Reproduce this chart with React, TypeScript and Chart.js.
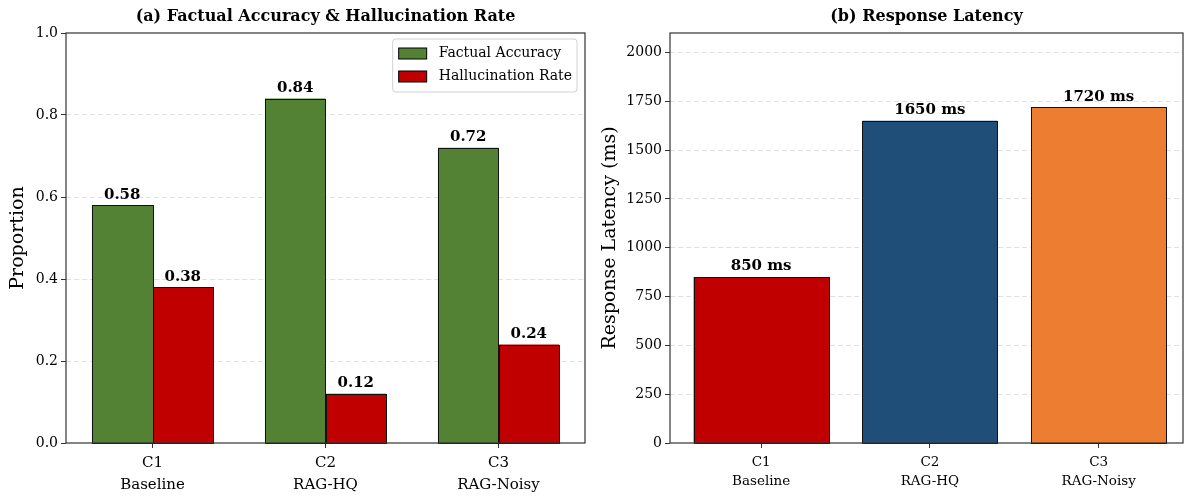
import { useEffect, useRef } from 'react';
import { Chart, registerables } from 'chart.js';

Chart.register(...registerables);

const categories: string[][] = [['C1', 'Baseline'], ['C2', 'RAG-HQ'], ['C3', 'RAG-Noisy']];
const categoryPositions = [0, 1, 2];
const factualAccuracy = [0.58, 0.84, 0.72];
const hallucinationRate = [0.38, 0.12, 0.24];
const latencyMs = [850, 1650, 1720];
const proportionTicks = [0, 0.2, 0.4, 0.6, 0.8, 1.0];
const latencyTicks = [0, 250, 500, 750, 1000, 1250, 1500, 1750, 2000];

const FONT = "'DejaVu Serif', serif";
const GREEN = '#548235';
const RED = '#C00000';
const BLUE = '#1F4E79';
const ORANGE = '#ED7D31';
const AXIS = '#333333';
const GRID = 'rgba(0,0,0,0.12)';

const boxPlugin = {
  id: 'box',
  afterDatasetsDraw(chart: any) {
    const { ctx, chartArea } = chart;
    ctx.save();
    ctx.strokeStyle = AXIS;
    ctx.lineWidth = 1.2;
    ctx.strokeRect(chartArea.left, chartArea.top, chartArea.right - chartArea.left, chartArea.bottom - chartArea.top);
    ctx.restore();
  },
};

// Re-paints each bar the library has laid out on whole pixels, with a crisp dark edge.
const barOutlinePlugin = {
  id: 'barOutline',
  afterDatasetsDraw(chart: any) {
    const { ctx } = chart;
    ctx.save();
    ctx.lineWidth = 1;
    chart.data.datasets.forEach((_: any, di: number) => {
      chart.getDatasetMeta(di).data.forEach((el: any) => {
        const { x, y, base, width } = el.getProps(['x', 'y', 'base', 'width'], true);
        const l = Math.round(x - width / 2);
        const r = Math.round(x + width / 2);
        const t = Math.round(Math.min(y, base));
        const b = Math.round(Math.max(y, base));
        ctx.fillStyle = el.options.backgroundColor;
        ctx.fillRect(l, t, r - l + 1, b - t + 1);
        ctx.strokeStyle = '#111';
        ctx.strokeRect(l + 0.5, t + 0.5, r - l, b - t);
      });
    });
    ctx.restore();
  },
};

function titlePlugin(text: string) {
  return {
    id: 'areaTitle',
    afterDraw(chart: any) {
      const { ctx, chartArea } = chart;
      ctx.save();
      ctx.font = `bold 16px ${FONT}`;
      ctx.fillStyle = '#000';
      ctx.textAlign = 'center';
      ctx.textBaseline = 'middle';
      ctx.fillText(text, (chartArea.left + chartArea.right) / 2, 17);
      ctx.restore();
    },
  };
}

function valueLabelPlugin(fmt: (v: number) => string) {
  return {
    id: 'valueLabels',
    afterDatasetsDraw(chart: any) {
      const { ctx } = chart;
      ctx.save();
      ctx.font = `bold 15px ${FONT}`;
      ctx.fillStyle = '#000';
      ctx.textAlign = 'center';
      ctx.textBaseline = 'bottom';
      chart.data.datasets.forEach((ds: any, di: number) => {
        const meta = chart.getDatasetMeta(di);
        meta.data.forEach((el: any, i: number) => {
          const raw = ds.data[i];
          const v = typeof raw === 'number' ? raw : raw.y;
          ctx.fillText(fmt(v), el.x, el.y - 3);
        });
      });
      ctx.restore();
    },
  };
}

const legendPlugin = {
  id: 'innerLegend',
  afterDraw(chart: any) {
    const { ctx, chartArea } = chart;
    ctx.save();
    ctx.font = `14px ${FONT}`;
    const items = chart.data.datasets.map((d: any) => ({ text: d.label, color: d.backgroundColor }));
    const textW = Math.max(...items.map((it: any) => ctx.measureText(it.text).width));
    const w = 6 + 28 + 12 + textW + 5;
    const h = 53;
    const x = chartArea.right - 8 - w;
    const y = chartArea.top + 6;
    ctx.beginPath();
    ctx.roundRect(x, y, w, h, 3);
    ctx.fillStyle = 'rgba(255,255,255,0.85)';
    ctx.fill();
    ctx.strokeStyle = 'rgba(0,0,0,0.18)';
    ctx.lineWidth = 1;
    ctx.stroke();
    items.forEach((it: any, i: number) => {
      const cy = y + 14.5 + i * 23;
      ctx.fillStyle = it.color;
      ctx.fillRect(x + 6, cy - 5.5, 28, 11);
      ctx.strokeStyle = '#000';
      ctx.strokeRect(x + 6, cy - 5.5, 28, 11);
      ctx.fillStyle = '#000';
      ctx.textAlign = 'left';
      ctx.textBaseline = 'middle';
      ctx.fillText(it.text, x + 6 + 28 + 12, cy);
    });
    ctx.restore();
  },
};

function baseOptions(opts: {
  yTitle: string;
  yMax: number;
  yTicks: number[];
  yFmt: (v: number) => string;
  yWidth: number;
  yTickSize: number;
  xTickSize: number;
  xLineHeight: number;
  xPad: number;
  padRight: number;
}) {
  return {
    responsive: false,
    animation: false as const,
    devicePixelRatio: 1,
    layout: { padding: { left: 0, right: opts.padRight, top: 33, bottom: 0 } },
    plugins: {
      legend: { display: false },
      tooltip: { enabled: false },
      title: { display: false },
    },
    scales: {
      x: {
        afterFit: (s: any) => { s.height = 53; },
        grid: { drawOnChartArea: false, offset: false, tickColor: AXIS, tickLength: 5, tickWidth: 1 },
        border: { display: false },
        ticks: {
          color: '#000',
          padding: opts.xPad,
          font: { family: FONT, size: opts.xTickSize, lineHeight: opts.xLineHeight },
        },
      },
      y: {
        min: 0,
        max: opts.yMax,
        afterFit: (s: any) => { s.width = opts.yWidth; },
        afterBuildTicks: (s: any) => { s.ticks = opts.yTicks.map((v) => ({ value: v })); },
        grid: {
          color: (c: any) => (c.tick && (c.tick.value === 0 || c.tick.value >= opts.yMax) ? 'rgba(0,0,0,0)' : GRID),
          tickColor: AXIS,
          tickLength: 5,
          lineWidth: 1,
        },
        border: { display: false, dash: [5, 3] },
        ticks: {
          color: '#000',
          padding: 3,
          font: { family: FONT, size: opts.yTickSize },
          callback: (v: any) => opts.yFmt(Number(v)),
        },
        title: {
          display: true,
          text: opts.yTitle,
          color: '#000',
          font: { family: FONT, size: 19, lineHeight: 1.2 },
          padding: { top: 6.5, bottom: 0 },
        },
      },
    },
  };
}

export default function App() {
  const leftRef = useRef<HTMLCanvasElement>(null);
  const rightRef = useRef<HTMLCanvasElement>(null);

  useEffect(() => {
    const left = new Chart(leftRef.current!, {
      type: 'bar',
      data: {
        labels: categories,
        datasets: [
          {
            label: 'Factual Accuracy',
            data: factualAccuracy,
            backgroundColor: GREEN,
            borderWidth: 0,
            categoryPercentage: 0.7,
            barPercentage: 1.0,
          },
          {
            label: 'Hallucination Rate',
            data: hallucinationRate,
            backgroundColor: RED,
            borderWidth: 0,
            categoryPercentage: 0.7,
            barPercentage: 1.0,
          },
        ],
      },
      options: baseOptions({
        yTitle: 'Proportion',
        yMax: 1.0,
        yTicks: proportionTicks,
        yFmt: (v) => v.toFixed(1),
        yWidth: 66,
        yTickSize: 14,
        xTickSize: 15,
        xLineHeight: 1.45,
        xPad: 4,
        padRight: 7,
      }) as any,
      plugins: [barOutlinePlugin, boxPlugin, valueLabelPlugin((v) => v.toFixed(2)), legendPlugin, titlePlugin('(a) Factual Accuracy & Hallucination Rate')],
    });

    const rightOpts: any = baseOptions({
      yTitle: 'Response Latency (ms)',
      yMax: 2100,
      yTicks: latencyTicks,
      yFmt: (v) => String(v),
      yWidth: 78,
      yTickSize: 14,
      xTickSize: 13.5,
      xLineHeight: 1.4,
      xPad: 5,
      padRight: 1,
    });
    rightOpts.scales.x = {
      ...rightOpts.scales.x,
      type: 'linear',
      offset: false,
      min: -0.54,
      max: 2.5,
      afterBuildTicks: (s: any) => { s.ticks = categoryPositions.map((v) => ({ value: v })); },
      ticks: {
        ...rightOpts.scales.x.ticks,
        callback: (v: any) => categories[Math.round(Number(v))] ?? '',
      },
    };

    const right = new Chart(rightRef.current!, {
      type: 'bar',
      data: {
        datasets: [
          {
            label: 'Response Latency',
            data: categoryPositions.map((x, i) => ({ x, y: latencyMs[i] })),
            backgroundColor: [RED, BLUE, ORANGE],
            borderWidth: 0,
            categoryPercentage: 0.8,
            barPercentage: 1.0,
          },
        ],
      },
      options: rightOpts,
      plugins: [barOutlinePlugin, boxPlugin, valueLabelPlugin((v) => `${v} ms`), titlePlugin('(b) Response Latency')],
    });

    return () => {
      left.destroy();
      right.destroy();
    };
  }, []);

  return (
    <div style={{ position: 'absolute', left: 0, top: 0, width: 1184, height: 496, background: '#fff' }}>
      <canvas ref={leftRef} width={592} height={496} style={{ position: 'absolute', left: 0, top: 0, width: 592, height: 496 }} />
      <canvas ref={rightRef} width={592} height={496} style={{ position: 'absolute', left: 592, top: 0, width: 592, height: 496 }} />
    </div>
  );
}
